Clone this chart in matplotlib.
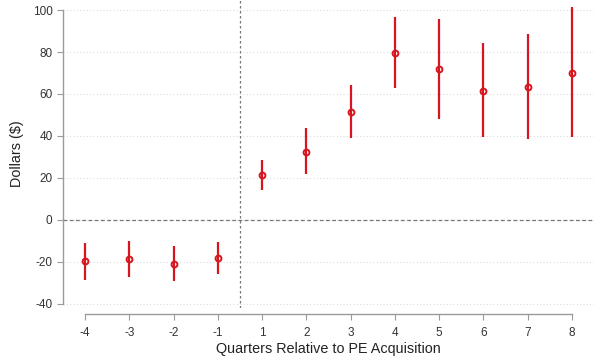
import numpy as np
import matplotlib
matplotlib.use("Agg")
import matplotlib.pyplot as plt

plt.rcParams["font.family"] = ["Liberation Sans", "DejaVu Sans"]
plt.rcParams["axes.unicode_minus"] = False

quarters = ["-4", "-3", "-2", "-1", "1", "2", "3", "4", "5", "6", "7", "8"]
coef  = [-19.8, -18.7, -21.0, -18.1, 21.4, 32.5, 51.4, 79.4, 71.7, 61.6, 63.2, 70.1]
ci_hi = [-11.1, -10.3, -12.4, -10.6, 28.6, 43.7, 64.3, 96.5, 95.6, 84.1, 88.4, 101.6]
ci_lo = [-28.6, -27.0, -29.0, -25.7, 14.3, 21.8, 38.9, 62.7, 47.9, 39.4, 38.4, 39.4]

RED = "#d8141e"

x = np.arange(len(quarters))

fig = plt.figure(figsize=(5.94, 3.62), dpi=100)
ax = fig.add_axes([63 / 594, (362 - 308) / 362, 531 / 594, 308 / 362])

# grid
for yv in range(-40, 101, 20):
    ax.axhline(yv, color="#dddddd", lw=0.8, ls=(0, (1, 2)), zorder=0)

ax.axhline(0, color="#777777", lw=0.9, ls=(0, (3, 2)), zorder=1)
ax.axvline(3.5, color="#777777", lw=0.9, ls=(0, (2, 2)), zorder=1)

ax.vlines(x, ci_lo, ci_hi, color=RED, lw=1.6, zorder=3)
ax.plot(x, coef, "o", ms=4.2, mfc="none", mec=RED, mew=1.4, zorder=4)

ax.set_xlim(-0.5, 11.5)
ax.set_ylim(-42, 104.8)
ax.set_xticks(x)
ax.set_xticklabels(quarters)
ax.set_yticks(range(-40, 101, 20))

for s in ["top", "right"]:
    ax.spines[s].set_visible(False)
ax.spines["left"].set_bounds(-40, 100)
ax.spines["bottom"].set_bounds(0, 11)
ax.spines["bottom"].set_position(("outward", 4))
for s in ["left", "bottom"]:
    ax.spines[s].set_color("#9a9a9a")
    ax.spines[s].set_linewidth(1.0)

ax.tick_params(colors="#9a9a9a", labelcolor="#333333", labelsize=8.5, length=4)
ax.tick_params(axis="x", pad=6)

ax.set_xlabel("Quarters Relative to PE Acquisition", fontsize=10.4, color="#222222", labelpad=2)
ax.set_ylabel("Dollars ($)", fontsize=10.4, color="#222222", labelpad=6)

fig.savefig("out.png", dpi=100)
